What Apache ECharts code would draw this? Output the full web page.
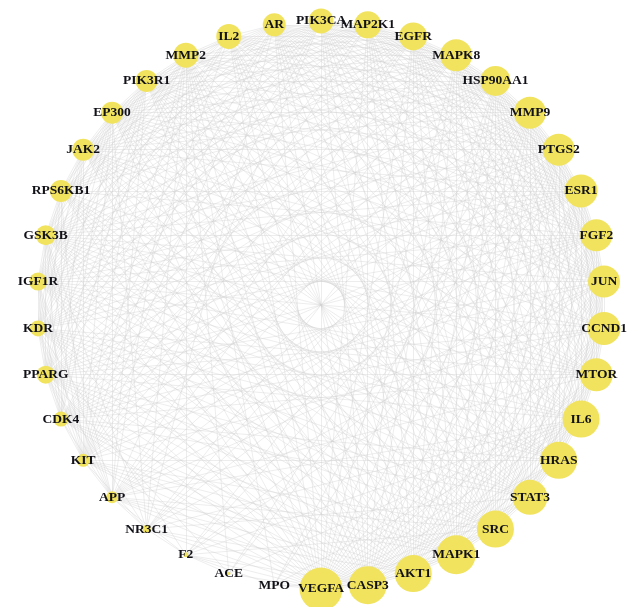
<!DOCTYPE html>
<html>
<head>
<meta charset="utf-8">
<script src="https://cdn.jsdelivr.net/npm/echarts@6/dist/echarts.min.js"></script>
<style>
html,body{margin:0;padding:0;background:#fff;}
#main{width:634px;height:607px;}
</style>
</head>
<body>
<div id="main"></div>
<script>
// Nodes in clockwise order starting at the top
const nodeNames = ['PIK3CA','MAP2K1','EGFR','MAPK8','HSP90AA1','MMP9','PTGS2','ESR1','FGF2','JUN',
  'CCND1','MTOR','IL6','HRAS','STAT3','SRC','MAPK1','AKT1','CASP3','VEGFA',
  'MPO','ACE','F2','NR3C1','APP','KIT','CDK4','PPARG','KDR','IGF1R',
  'GSK3B','RPS6KB1','JAK2','EP300','PIK3R1','MMP2','IL2','AR'];
// Node sizes (reflect degree)
const nodeSizes = [25,27,28,32,30,32,32,33,32,32,
  33,33,37,37,35,37,39,37,38,43,
  0,3,5,8,12,13,15,18,16,18,
  20,22,22,22,22,25,25,23];
// Interactions: source -> list of targets
const linkRows = [
  ['VEGFA','CASP3 AKT1 MAPK1 SRC STAT3 HRAS IL6 MTOR CCND1 JUN FGF2 ESR1 PTGS2 MMP9 HSP90AA1 MAPK8 EGFR MAP2K1 PIK3CA AR IL2 MMP2 PIK3R1 EP300 JAK2 RPS6KB1 GSK3B IGF1R KDR PPARG CDK4 KIT APP NR3C1 F2 ACE MPO'],
  ['CASP3','AKT1 MAPK1 SRC STAT3 HRAS IL6 MTOR CCND1 JUN FGF2 ESR1 PTGS2 MMP9 HSP90AA1 MAPK8 EGFR MAP2K1 PIK3CA AR IL2 MMP2 PIK3R1 EP300 JAK2 RPS6KB1 GSK3B IGF1R KDR PPARG CDK4 KIT APP NR3C1 F2 MPO'],
  ['AKT1','MAPK1 SRC STAT3 HRAS IL6 MTOR CCND1 JUN FGF2 ESR1 PTGS2 MMP9 HSP90AA1 MAPK8 EGFR MAP2K1 PIK3CA AR IL2 MMP2 PIK3R1 EP300 JAK2 RPS6KB1 GSK3B IGF1R KDR PPARG CDK4 KIT APP NR3C1'],
  ['MAPK1','SRC STAT3 HRAS IL6 MTOR CCND1 JUN FGF2 ESR1 PTGS2 MMP9 HSP90AA1 MAPK8 EGFR MAP2K1 PIK3CA AR IL2 MMP2 PIK3R1 EP300 JAK2 RPS6KB1 GSK3B IGF1R KDR PPARG CDK4 KIT APP'],
  ['SRC','STAT3 HRAS IL6 MTOR CCND1 JUN FGF2 ESR1 PTGS2 MMP9 HSP90AA1 MAPK8 EGFR MAP2K1 PIK3CA AR IL2 MMP2 PIK3R1 EP300 JAK2 RPS6KB1 GSK3B IGF1R KDR PPARG KIT APP F2'],
  ['STAT3','HRAS IL6 MTOR CCND1 JUN FGF2 ESR1 PTGS2 MMP9 HSP90AA1 MAPK8 EGFR MAP2K1 PIK3CA AR IL2 MMP2 PIK3R1 EP300 JAK2 RPS6KB1 GSK3B IGF1R KDR PPARG CDK4 NR3C1'],
  ['HRAS','IL6 MTOR CCND1 JUN FGF2 ESR1 PTGS2 MMP9 HSP90AA1 MAPK8 EGFR MAP2K1 PIK3CA AR PIK3R1 EP300 JAK2 RPS6KB1 GSK3B IGF1R KDR CDK4 KIT'],
  ['IL6','MTOR CCND1 JUN FGF2 ESR1 PTGS2 MMP9 HSP90AA1 MAPK8 EGFR PIK3CA AR IL2 MMP2 PIK3R1 EP300 JAK2 GSK3B IGF1R KDR PPARG APP NR3C1 F2 ACE MPO'],
  ['MTOR','CCND1 JUN FGF2 ESR1 PTGS2 MMP9 HSP90AA1 MAPK8 EGFR MAP2K1 PIK3CA AR IL2 PIK3R1 EP300 JAK2 RPS6KB1 GSK3B IGF1R KDR PPARG CDK4 APP'],
  ['CCND1','JUN FGF2 ESR1 PTGS2 MMP9 HSP90AA1 MAPK8 EGFR MAP2K1 PIK3CA AR PIK3R1 EP300 JAK2 GSK3B IGF1R CDK4 PPARG KIT'],
  ['JUN','FGF2 ESR1 PTGS2 MMP9 HSP90AA1 MAPK8 EGFR MAP2K1 PIK3CA AR IL2 MMP2 PIK3R1 EP300 JAK2 GSK3B IGF1R PPARG CDK4 APP NR3C1 F2'],
  ['FGF2','ESR1 PTGS2 MMP9 HSP90AA1 MAPK8 EGFR MAP2K1 PIK3CA AR IL2 MMP2 PIK3R1 EP300 RPS6KB1 GSK3B IGF1R KDR PPARG CDK4 KIT APP F2'],
  ['ESR1','PTGS2 MMP9 HSP90AA1 MAPK8 EGFR MAP2K1 PIK3CA AR IL2 MMP2 PIK3R1 EP300 JAK2 RPS6KB1 GSK3B IGF1R KDR PPARG CDK4 KIT APP NR3C1'],
  ['PTGS2','MMP9 HSP90AA1 MAPK8 EGFR MAP2K1 PIK3CA AR IL2 MMP2 PIK3R1 EP300 JAK2 GSK3B IGF1R KDR PPARG CDK4 APP NR3C1 F2 ACE MPO'],
  ['MMP9','HSP90AA1 MAPK8 EGFR MAP2K1 PIK3CA AR IL2 MMP2 PIK3R1 EP300 JAK2 GSK3B IGF1R KDR PPARG CDK4 KIT APP NR3C1 F2 ACE MPO'],
  ['HSP90AA1','MAPK8 EGFR MAP2K1 PIK3CA AR IL2 MMP2 PIK3R1 EP300 JAK2 RPS6KB1 GSK3B IGF1R KDR PPARG CDK4 KIT APP NR3C1'],
  ['MAPK8','EGFR MAP2K1 PIK3CA AR IL2 MMP2 PIK3R1 EP300 JAK2 RPS6KB1 GSK3B IGF1R KDR PPARG CDK4 KIT APP'],
  ['EGFR','MAP2K1 PIK3CA AR IL2 MMP2 PIK3R1 EP300 JAK2 RPS6KB1 GSK3B IGF1R KDR PPARG CDK4 KIT APP'],
  ['MAP2K1','PIK3CA AR PIK3R1 EP300 JAK2 RPS6KB1 GSK3B IGF1R KDR CDK4 KIT'],
  ['PIK3CA','PIK3R1 EP300 JAK2 RPS6KB1 GSK3B IGF1R KDR PPARG CDK4 KIT APP'],
  ['AR','IL2 MMP2 PIK3R1 EP300 JAK2 RPS6KB1 GSK3B IGF1R PPARG CDK4 KIT NR3C1'],
  ['IL2','MMP2 PIK3R1 EP300 JAK2 RPS6KB1 IGF1R KDR PPARG KIT'],
  ['MMP2','PIK3R1 EP300 JAK2 GSK3B IGF1R KDR PPARG KIT APP NR3C1 F2 ACE MPO'],
  ['PIK3R1','EP300 JAK2 RPS6KB1 GSK3B IGF1R KDR PPARG CDK4 KIT APP'],
  ['EP300','JAK2 RPS6KB1 GSK3B IGF1R KDR PPARG NR3C1 CDK4 KIT APP'],
  ['JAK2','RPS6KB1 GSK3B IGF1R KDR PPARG CDK4 KIT'],
  ['RPS6KB1','GSK3B IGF1R KDR PPARG CDK4 KIT'],
  ['GSK3B','IGF1R KDR PPARG CDK4 KIT APP NR3C1'],
  ['IGF1R','KDR PPARG CDK4 KIT APP'],
  ['KDR','PPARG CDK4 KIT APP F2'],
  ['PPARG','CDK4 KIT APP NR3C1 ACE'],
  ['CDK4','KIT APP'],
  ['KIT','APP NR3C1'],
  ['APP','NR3C1 F2'],
  ['NR3C1','F2'],
  ['F2','ACE MPO']
];

const nodes = nodeNames.map((name, i) => ({
  name: name,
  value: [1, i],
  symbolSize: nodeSizes[i]
}));
const links = [];
linkRows.forEach(([src, targets]) => {
  targets.split(' ').forEach(t => links.push({ source: src, target: t }));
});

const chart = echarts.init(document.getElementById('main'), null, { renderer: 'canvas' });
chart.setOption({
  backgroundColor: '#ffffff',
  animation: false,
  polar: { center: [321, 305], radius: 284 },
  angleAxis: { type: 'value', min: 0, max: nodeNames.length, startAngle: 90, clockwise: true, show: false },
  radiusAxis: { type: 'value', min: 0, max: 1, show: false },
  series: [{
    type: 'graph',
    coordinateSystem: 'polar',
    data: nodes,
    links: links,
    itemStyle: { color: '#f1e35e' },
    lineStyle: { color: '#cfcfcf', width: 0.5, opacity: 0.75, curveness: 0 },
    label: {
      show: true,
      position: 'inside',
      color: '#111118',
      fontFamily: 'Liberation Serif',
      fontWeight: 'bold',
      fontSize: 13.5
    },
    emphasis: { disabled: true }
  }]
});
</script>
</body>
</html>
